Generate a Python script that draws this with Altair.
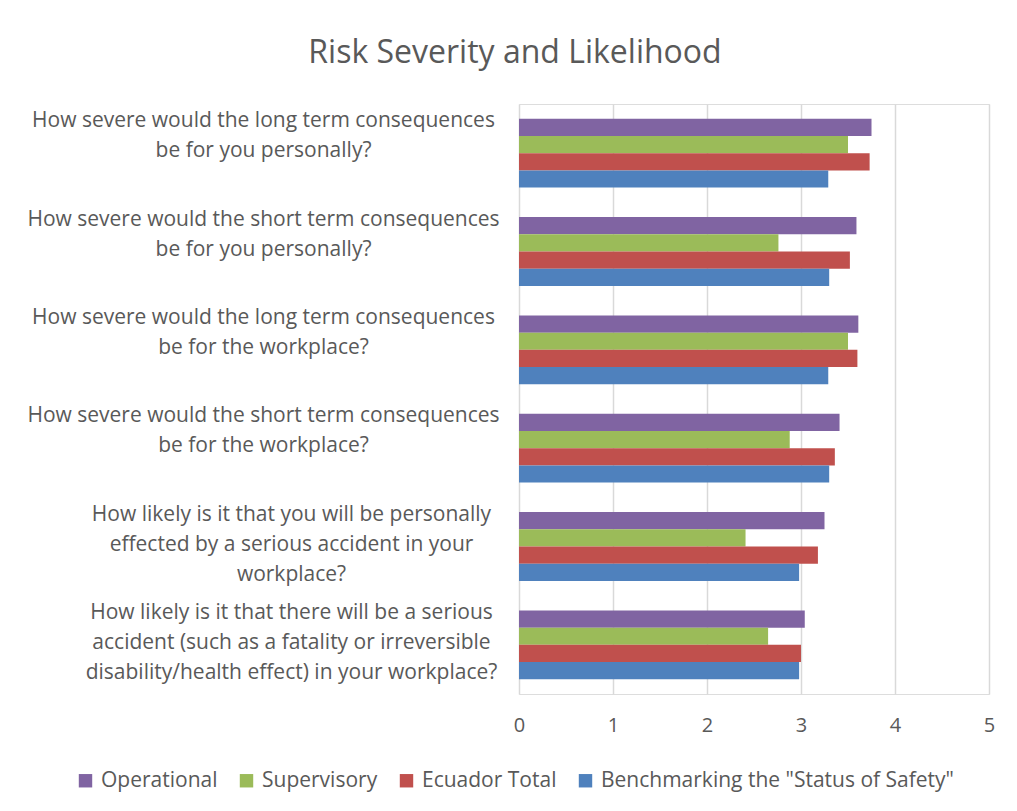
import altair as alt
import pandas as pd

# Category labels (one list of wrapped lines per question), top to bottom
questions = [
    ["How severe would the long term consequences", "be for you personally?"],
    ["How severe would the short term consequences", "be for you personally?"],
    ["How severe would the long term consequences", "be for the workplace?"],
    ["How severe would the short term consequences", "be for the workplace?"],
    ["How likely is it that you will be personally", "effected by a serious accident in your", "workplace?"],
    ["How likely is it that there will be a serious", "accident (such as a fatality or irreversible",
     "disability/health effect) in your workplace?"],
]
series = ["Operational", "Supervisory", "Ecuador Total", 'Benchmarking the "Status of Safety"']
operational = [3.75, 3.59, 3.61, 3.41, 3.25, 3.04]
supervisory = [3.50, 2.76, 3.50, 2.88, 2.41, 2.65]
ecuador_total = [3.73, 3.52, 3.60, 3.36, 3.18, 3.00]
benchmarking = [3.29, 3.30, 3.29, 3.30, 2.98, 2.98]
colors = ["#8064A2", "#9BBB59", "#C0504D", "#4F81BD"]
x_ticks = [0, 1, 2, 3, 4, 5]

question_keys = ["|".join(q) for q in questions]
rows = []
for name, vals in zip(series, [operational, supervisory, ecuador_total, benchmarking]):
    for q, v in zip(question_keys, vals):
        rows.append({"question": q, "series": name, "value": v})
df = pd.DataFrame(rows)

FONT = "Open Sans"
GRAY = "#595959"

chart = alt.Chart(df).mark_bar().encode(
    y=alt.Y(
        "question:N",
        sort=question_keys,
        scale=alt.Scale(paddingInner=0.3, paddingOuter=0.15),
        axis=alt.Axis(
            title=None,
            labelExpr="split(datum.label, '|')",
            labelAlign="center",
            labelBaseline="top",
            labelOffset=-43,
            labelPadding={"condition": {"test": "indexof(datum.value, 'likely') >= 0", "value": 228},
                          "value": 256},
            labelFontSize=21,
            labelFont=FONT,
            labelColor=GRAY,
            labelLineHeight=30,
            labelLimit=0,
            labelOverlap=False,
            domain=False,
            ticks=False,
            grid=False,
        ),
    ),
    yOffset=alt.YOffset("series:N", sort=series, scale=alt.Scale(domain=series, paddingInner=0)),
    x=alt.X(
        "value:Q",
        scale=alt.Scale(domain=[0, 5], nice=False),
        axis=alt.Axis(
            title=None,
            values=x_ticks,
            format="d",
            labelFontSize=20,
            labelFont=FONT,
            labelColor=GRAY,
            labelPadding=21,
            labelFlush=False,
            domain=False,
            ticks=False,
            grid=True,
            gridColor="#d9d9d9",
            gridWidth=1.5,
        ),
    ),
    color=alt.Color(
        "series:N",
        sort=series,
        scale=alt.Scale(domain=series, range=colors),
        legend=alt.Legend(
            title=None,
            orient="none",
            direction="horizontal",
            legendX=-444,
            legendY=666,
            symbolType="square",
            symbolSize=180,
            symbolStrokeWidth=0,
            labelFontSize=21,
            labelFont=FONT,
            labelColor=GRAY,
            labelOffset=5,
            columnPadding=18,
            labelLimit=0,
            padding=0,
        ),
    ),
).properties(
    width=470,
    height=590,
    title=alt.TitleParams(
        "Risk Severity and Likelihood",
        font=FONT,
        fontSize=32,
        fontWeight="normal",
        color=GRAY,
        anchor="middle",
        frame="group",
        dx=-239,
        offset=34,
    ),
    autosize=alt.AutoSizeParams(type="none"),
    padding={"left": 519, "top": 104, "right": 28, "bottom": 117},
).configure_view(stroke=None).configure(background="white")

chart.save("out.html", embed_options={"renderer": "svg", "actions": False})
